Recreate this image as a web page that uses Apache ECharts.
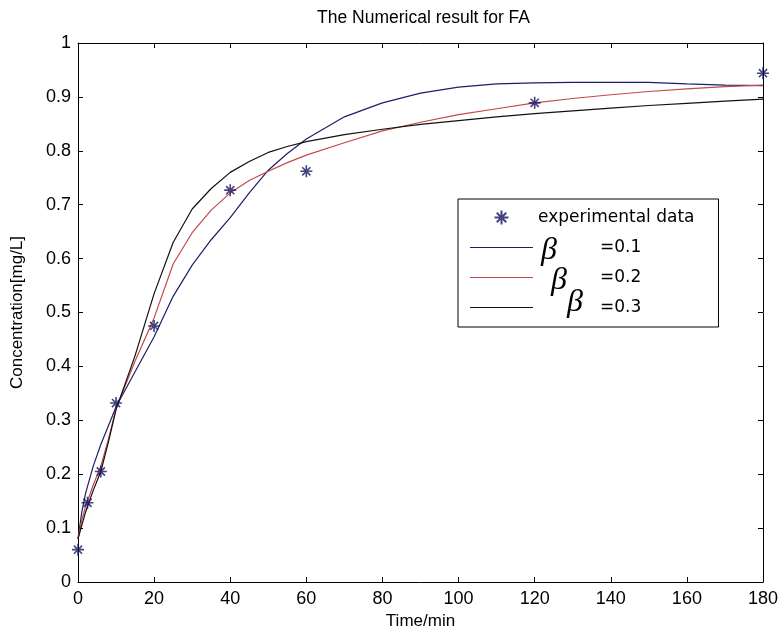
<!DOCTYPE html>
<html>
<head>
<meta charset="utf-8">
<script src="https://cdn.jsdelivr.net/npm/echarts@6/dist/echarts.min.js"></script>
<style>html,body{margin:0;padding:0;background:#fff;}#c{width:782px;height:638px;}</style>
</head>
<body>
<div id="c"></div>
<script>
// ---- data ----
const expTime = [0, 2.5, 6, 10, 20, 40, 60, 120, 180];
const expConc = [0.06, 0.147, 0.205, 0.332, 0.475, 0.727, 0.762, 0.889, 0.944];

const curveTime = [0, 1, 2, 4, 6, 8, 10, 15, 20, 25, 30, 35, 40, 45, 50, 55, 60, 70, 80, 90, 100, 110, 120, 130, 140, 150, 160, 170, 180];
const beta01 = [0.08, 0.13, 0.165, 0.215, 0.255, 0.29, 0.325, 0.39, 0.455, 0.53, 0.588, 0.635, 0.676, 0.722, 0.764, 0.795, 0.822, 0.863, 0.889, 0.907, 0.918, 0.924, 0.926, 0.927, 0.927, 0.927, 0.924, 0.922, 0.921];
const beta02 = [0.08, 0.115, 0.14, 0.18, 0.215, 0.265, 0.322, 0.41, 0.49, 0.59, 0.648, 0.69, 0.722, 0.745, 0.762, 0.778, 0.792, 0.815, 0.837, 0.853, 0.867, 0.878, 0.889, 0.897, 0.904, 0.91, 0.915, 0.919, 0.922];
const beta03 = [0.08, 0.105, 0.13, 0.17, 0.205, 0.26, 0.32, 0.42, 0.535, 0.63, 0.692, 0.73, 0.76, 0.78, 0.797, 0.808, 0.817, 0.83, 0.84, 0.849, 0.856, 0.863, 0.869, 0.874, 0.879, 0.884, 0.888, 0.892, 0.896];

const seriesNames = ['experimental data', 'β=0.1', 'β=0.2', 'β=0.3'];
const titleText = 'The Numerical result for FA';
const xName = 'Time/min';
const yName = 'Concentration[mg/L]';

// ---- chart ----
const FONT = 'Liberation Sans, Arial, sans-serif';
const LFONT = 'DejaVu Sans, sans-serif';
const zip = (xs, ys) => xs.map((x, i) => [x, ys[i]]);
const chart = echarts.init(document.getElementById('c'), null, {renderer: 'canvas'});

const tickStyle = {show: true, inside: true, length: 5, lineStyle: {color: '#000', width: 1}};
const lineAx = {show: true, onZero: false, lineStyle: {color: '#000', width: 1}};

const starPath = 'path://M5,0L5,10M0,5L10,5M1.6,1.6L8.4,8.4M1.6,8.4L8.4,1.6';
const lineIcon = 'path://M0,0L63,0L63,1.2L0,1.2Z';

const betaGlyph = (x, y) => ({
  type: 'text', x: x, y: y, z: 100,
  style: {text: 'β', font: 'italic 32px "Liberation Serif"', fill: '#000', verticalAlign: 'middle', align: 'left'}
});

const option = {
  animation: false,
  backgroundColor: '#fff',
  title: {
    text: titleText, left: 312, top: 4,
    textStyle: {fontFamily: FONT, fontSize: 17.5, fontWeight: 'normal', color: '#000'}
  },
  grid: {left: 78, right: 19, top: 43, bottom: 56, outerBoundsMode: 'none', show: false},
  legend: {
    orient: 'vertical', left: 458, top: 199,
    padding: [10, 24, 11, 12],
    itemWidth: 63, itemHeight: 14, itemGap: 13,
    borderColor: '#000', borderWidth: 1, backgroundColor: '#fff',
    data: [
      {name: seriesNames[0]},
      {name: seriesNames[1], icon: lineIcon},
      {name: seriesNames[2], icon: lineIcon},
      {name: seriesNames[3], icon: lineIcon}
    ],
    textStyle: {
      fontFamily: LFONT, fontSize: 17, color: '#000', lineHeight: 14,
      rich: {
        v: {fontFamily: LFONT, fontSize: 17, lineHeight: 14, color: '#000', padding: [0, 0, 0, 62]}
      }
    },
    formatter: function (name) {
      const i = seriesNames.indexOf(name);
      if (i === 0) return name;
      return '{v|' + name.slice(1) + '}';
    }
  },
  graphic: [betaGlyph(541, 251), betaGlyph(551, 281), betaGlyph(567, 303)],
  xAxis: [{
    type: 'value', min: 0, max: 180, interval: 20, position: 'bottom',
    axisLine: lineAx, axisTick: tickStyle, splitLine: {show: false},
    axisLabel: {fontFamily: FONT, fontSize: 18, color: '#000', margin: 8},
    name: xName, nameLocation: 'middle', nameGap: 28,
    nameTextStyle: {fontFamily: FONT, fontSize: 17, color: '#000'}
  }, {
    type: 'value', min: 0, max: 180, interval: 20, position: 'top',
    axisLine: lineAx, axisTick: tickStyle, splitLine: {show: false},
    axisLabel: {show: false}
  }],
  yAxis: [{
    type: 'value', min: 0, max: 1, interval: 0.1, position: 'left',
    axisLine: lineAx, axisTick: tickStyle, splitLine: {show: false},
    axisLabel: {fontFamily: FONT, fontSize: 18, color: '#000', margin: 7},
    name: yName, nameLocation: 'middle', nameGap: 52,
    nameTextStyle: {fontFamily: FONT, fontSize: 17, color: '#000'}
  }, {
    type: 'value', min: 0, max: 1, interval: 0.1, position: 'right',
    axisLine: lineAx, axisTick: tickStyle, splitLine: {show: false},
    axisLabel: {show: false}
  }],
  series: [
    {
      name: seriesNames[0], type: 'scatter', data: zip(expTime, expConc),
      symbol: starPath, symbolSize: 12, symbolKeepAspect: true, z: 5,
      itemStyle: {color: 'rgba(0,0,0,0)', borderColor: '#14145e', borderWidth: 1.6}
    },
    {
      name: seriesNames[1], type: 'line', data: zip(curveTime, beta01),
      symbol: 'none', showSymbol: false, smooth: false,
      lineStyle: {color: '#1e1e66', width: 1.2}, itemStyle: {color: '#1e1e66'}
    },
    {
      name: seriesNames[2], type: 'line', data: zip(curveTime, beta02),
      symbol: 'none', showSymbol: false, smooth: false,
      lineStyle: {color: '#c24a4a', width: 1.2}, itemStyle: {color: '#c24a4a'}
    },
    {
      name: seriesNames[3], type: 'line', data: zip(curveTime, beta03),
      symbol: 'none', showSymbol: false, smooth: false,
      lineStyle: {color: '#111111', width: 1.2}, itemStyle: {color: '#111111'}
    }
  ]
};
chart.setOption(option);
</script>
</body>
</html>
